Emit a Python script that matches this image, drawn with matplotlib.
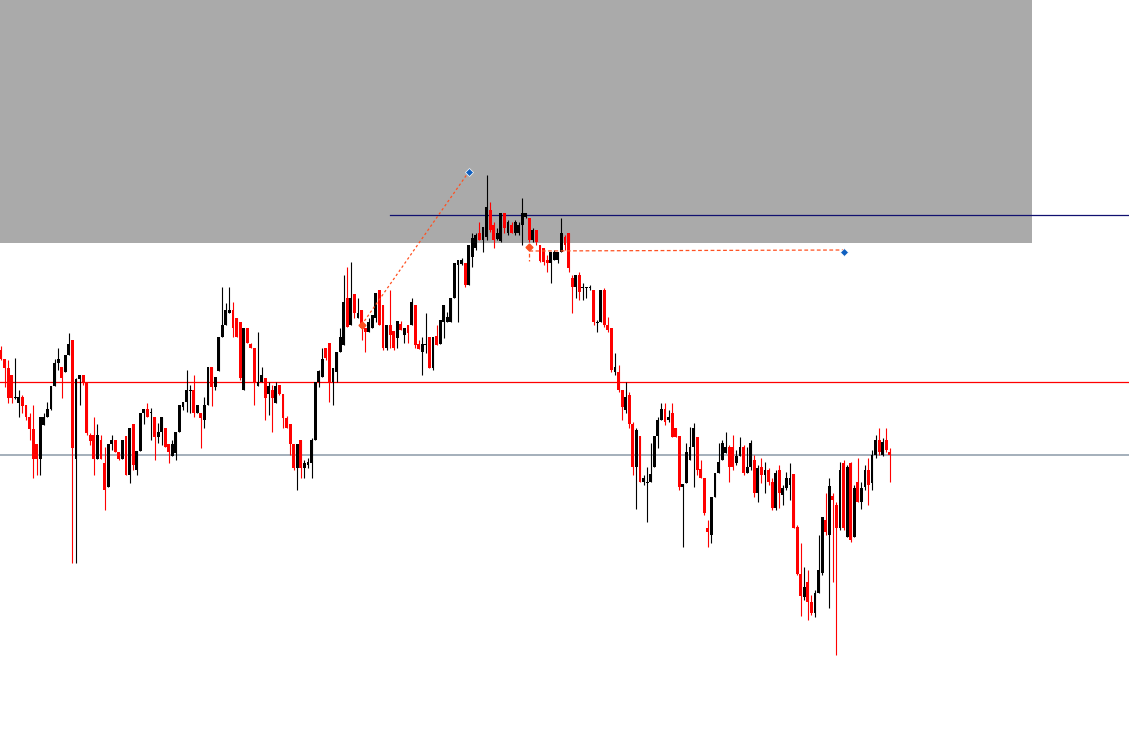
import numpy as np
import matplotlib
matplotlib.use("Agg")
import matplotlib.pyplot as plt

# ---- datos OHLC (unidades de precio arbitrarias) ----
apertura = [400, 391, 382, 375, 352, 347, 353, 345, 333, 321,
            306, 291, 325, 333, 341, 364, 387, 383, 378, 395,
            410, 291, 371, 375, 367, 315, 315, 291, 310, 287,
            263, 306, 310, 298, 291, 314, 275, 326, 280, 299,
            337, 341, 337, 333, 313, 318, 322, 306, 294, 297,
            318, 343, 348, 359, 360, 337, 337, 330, 345, 383,
            363, 379, 413, 425, 437, 440, 432, 428, 360, 422,
            406, 402, 364, 368, 372, 356, 360, 347, 365, 356,
            332, 326, 306, 282, 310, 282, 285, 287, 310, 368,
            373, 402, 407, 368, 378, 398, 405, 452, 425, 456,
            432, 440, 422, 418, 422, 432, 460, 445, 402, 425,
            419, 412, 426, 415, 425, 425, 445, 406, 398, 405,
            413, 382, 414, 406, 428, 428, 428, 452, 485, 486,
            487, 465, 493, 502, 517, 510, 513, 540, 525, 511,
            509, 537, 517, 525, 517, 517, 525, 533, 532, 510,
            520, 505, 502, 490, 487, 490, 490, 498, 513, 517,
            472, 463, 475, 462, 462, 462, 460, 427, 428, 460,
            425, 422, 378, 378, 360, 340, 355, 326, 283, 314,
            268, 267, 268, 283, 314, 330, 341, 330, 337, 322,
            314, 263, 267, 290, 303, 313, 281, 272, 222, 215,
            253, 277, 290, 297, 303, 303, 287, 294, 303, 277,
            283, 290, 257, 283, 275, 280, 268, 242, 280, 255,
            262, 265, 276, 223, 176, 153, 168, 148, 137, 157,
            177, 230, 215, 254, 245, 222, 287, 213, 287, 213,
            268, 248, 263, 280, 267, 295, 310, 295, 310, 298]
maximo = [404, 391, 390, 375, 392, 360, 355, 345, 337, 345,
          306, 333, 337, 348, 364, 391, 402, 383, 395, 417,
          410, 372, 375, 375, 367, 317, 333, 326, 315, 303,
          306, 315, 310, 298, 310, 314, 322, 326, 299, 337,
          341, 347, 342, 333, 327, 333, 322, 306, 310, 318,
          345, 348, 380, 365, 375, 345, 337, 353, 383, 383,
          373, 413, 463, 447, 463, 448, 432, 428, 422, 422,
          407, 402, 418, 383, 372, 368, 365, 368, 365, 356,
          334, 326, 306, 306, 310, 290, 292, 312, 368, 380,
          402, 402, 407, 382, 398, 422, 475, 483, 488, 456,
          452, 440, 422, 432, 435, 457, 460, 445, 425, 460,
          419, 429, 429, 422, 425, 452, 445, 410, 413, 437,
          413, 413, 425, 430, 445, 438, 452, 487, 490, 492,
          487, 505, 517, 517, 528, 523, 575, 548, 528, 522,
          537, 537, 530, 528, 530, 528, 552, 537, 532, 522,
          520, 505, 502, 495, 498, 500, 498, 532, 515, 517,
          475, 475, 478, 467, 463, 465, 460, 430, 460, 462,
          433, 422, 397, 385, 360, 368, 358, 328, 322, 314,
          275, 283, 307, 314, 333, 347, 347, 340, 347, 322,
          314, 266, 307, 323, 327, 313, 290, 272, 230, 253,
          277, 307, 310, 318, 305, 315, 300, 313, 305, 303,
          310, 295, 285, 292, 288, 282, 272, 280, 285, 265,
          278, 287, 276, 225, 207, 183, 180, 155, 160, 215,
          233, 257, 272, 257, 248, 288, 290, 285, 288, 265,
          292, 268, 285, 292, 300, 315, 322, 312, 322, 302]
minimo = [390, 363, 347, 347, 351, 333, 337, 330, 310, 272,
          275, 275, 325, 333, 340, 364, 380, 352, 378, 395,
          187, 187, 345, 365, 315, 305, 275, 291, 291, 240,
          263, 300, 298, 290, 291, 275, 267, 280, 275, 299,
          326, 333, 310, 290, 307, 305, 303, 287, 294, 290,
          318, 340, 338, 337, 333, 337, 302, 322, 345, 344,
          360, 379, 413, 425, 437, 413, 413, 370, 360, 407,
          402, 345, 364, 368, 330, 335, 318, 347, 355, 322,
          322, 295, 280, 260, 272, 272, 282, 272, 310, 363,
          373, 390, 348, 345, 368, 398, 405, 423, 425, 432,
          432, 410, 398, 418, 422, 428, 425, 400, 400, 402,
          400, 402, 420, 407, 407, 425, 402, 401, 375, 397,
          382, 380, 405, 406, 412, 428, 428, 452, 428, 485,
          463, 465, 483, 500, 510, 498, 510, 518, 502, 510,
          508, 517, 515, 517, 515, 515, 505, 532, 508, 508,
          505, 488, 485, 478, 467, 490, 487, 498, 500, 478,
          437, 452, 450, 450, 452, 460, 425, 418, 428, 423,
          418, 378, 375, 358, 330, 337, 322, 275, 241, 268,
          265, 228, 268, 283, 302, 330, 325, 328, 313, 313,
          260, 203, 267, 290, 263, 275, 272, 235, 203, 207,
          253, 277, 290, 297, 268, 280, 285, 294, 275, 277,
          280, 253, 248, 267, 257, 265, 240, 240, 242, 245,
          260, 250, 222, 175, 134, 150, 130, 135, 133, 157,
          175, 215, 142, 168, 95, 220, 220, 213, 208, 213,
          248, 241, 260, 245, 260, 292, 295, 294, 298, 268]
cierre = [391, 382, 352, 352, 353, 353, 344, 333, 321, 291,
          291, 333, 333, 341, 364, 387, 391, 372, 395, 406,
          302, 371, 375, 367, 317, 309, 291, 315, 291, 260,
          306, 310, 298, 291, 310, 275, 322, 285, 299, 337,
          341, 333, 338, 313, 318, 333, 303, 298, 306, 318,
          345, 348, 360, 360, 337, 345, 332, 345, 383, 363,
          373, 413, 425, 440, 440, 422, 413, 372, 422, 407,
          402, 367, 368, 375, 352, 364, 352, 364, 356, 332,
          322, 306, 282, 306, 282, 287, 288, 310, 368, 379,
          391, 392, 367, 382, 398, 413, 448, 423, 452, 437,
          437, 422, 418, 428, 435, 457, 425, 402, 425, 415,
          402, 429, 420, 422, 417, 448, 405, 401, 406, 406,
          382, 413, 405, 430, 445, 433, 452, 487, 490, 490,
          465, 505, 512, 515, 510, 523, 543, 520, 510, 517,
          537, 522, 528, 517, 528, 525, 537, 537, 510, 520,
          508, 489, 488, 487, 498, 498, 498, 517, 505, 482,
          463, 475, 458, 463, 463, 463, 428, 428, 460, 425,
          420, 380, 383, 360, 343, 353, 326, 283, 320, 268,
          272, 268, 276, 314, 330, 341, 328, 333, 313, 313,
          263, 266, 298, 303, 322, 280, 272, 237, 218, 253,
          277, 288, 307, 303, 283, 283, 294, 303, 277, 283,
          307, 257, 282, 275, 280, 268, 242, 277, 257, 262,
          272, 272, 222, 176, 154, 163, 148, 137, 157, 180,
          233, 218, 264, 250, 222, 280, 222, 283, 210, 262,
          248, 262, 280, 265, 295, 310, 298, 308, 300, 295]

# niveles horizontales y operaciones dibujadas en el gráfico
zona_sup = (507, 750)          # rectángulo gris (precio)
nivel_azul = 535
nivel_rojo = 368
nivel_gris = 295
op1 = ([101, 131], [425, 578])   # entrada -> objetivo
op2 = ([148, 236], [499, 500])

#%%
o = np.array(apertura)
h = np.array(maximo)
l = np.array(minimo)
c = np.array(cierre)
x = np.arange(len(o))
colores = np.where(c >= o, 'black', '#ff0000')

fig = plt.figure(figsize=(11.29, 7.5), dpi=100)
ax = fig.add_axes([0, 0, 1, 1])
ax.set_xlim(-0.28, 315.97)
ax.set_ylim(0, 750)
ax.axis('off')

ax.axhspan(zona_sup[0], zona_sup[1], xmin=0, xmax=1032/1129, color='#aaaaaa', lw=0, zorder=0)
ax.axhline(nivel_azul, xmin=390/1129, xmax=1, color='#101070', lw=0.9, zorder=1)
ax.axhline(nivel_rojo, color='#ff0000', lw=0.9, zorder=1)
ax.axhline(nivel_gris, color='#8c9aa8', lw=1.1, zorder=1)

# velas: mecha + cuerpo
ax.vlines(x, l, h, colors=colores, lw=0.8, zorder=2)
alto = np.maximum(np.abs(c - o), 1)
ax.bar(x, alto, bottom=np.minimum(o, c), width=0.8, color=colores, lw=0, zorder=3)

# operaciones
naranja = '#ff5020'
azul = '#1060c0'
ax.plot(op1[0], op1[1], ls=(0, (2, 2)), color=naranja, lw=0.9, zorder=4)
ax.plot(op1[0][0], op1[1][0], marker='D', ms=3.5, color=naranja, zorder=5)
ax.plot(op1[0][1], op1[1][1], marker='D', ms=4, color=azul, mec='white', mew=0.5, zorder=5)
ax.plot(op2[0], op2[1], ls=(0, (3, 2)), color=naranja, lw=0.9, zorder=4)
ax.plot([op2[0][0], op2[0][0]], [op2[1][0] + 4, op2[1][0] - 10], ls=(0, (3, 2)), color=naranja, lw=0.9, zorder=4)
ax.plot(op2[0][0], op2[1][0] + 4, marker='D', ms=3.5, color=naranja, zorder=5)
ax.plot(op2[0][1], op2[1][1] - 2, marker='D', ms=4, color=azul, mec='white', mew=0.5, zorder=5)

fig.savefig('out.png', dpi=100)
